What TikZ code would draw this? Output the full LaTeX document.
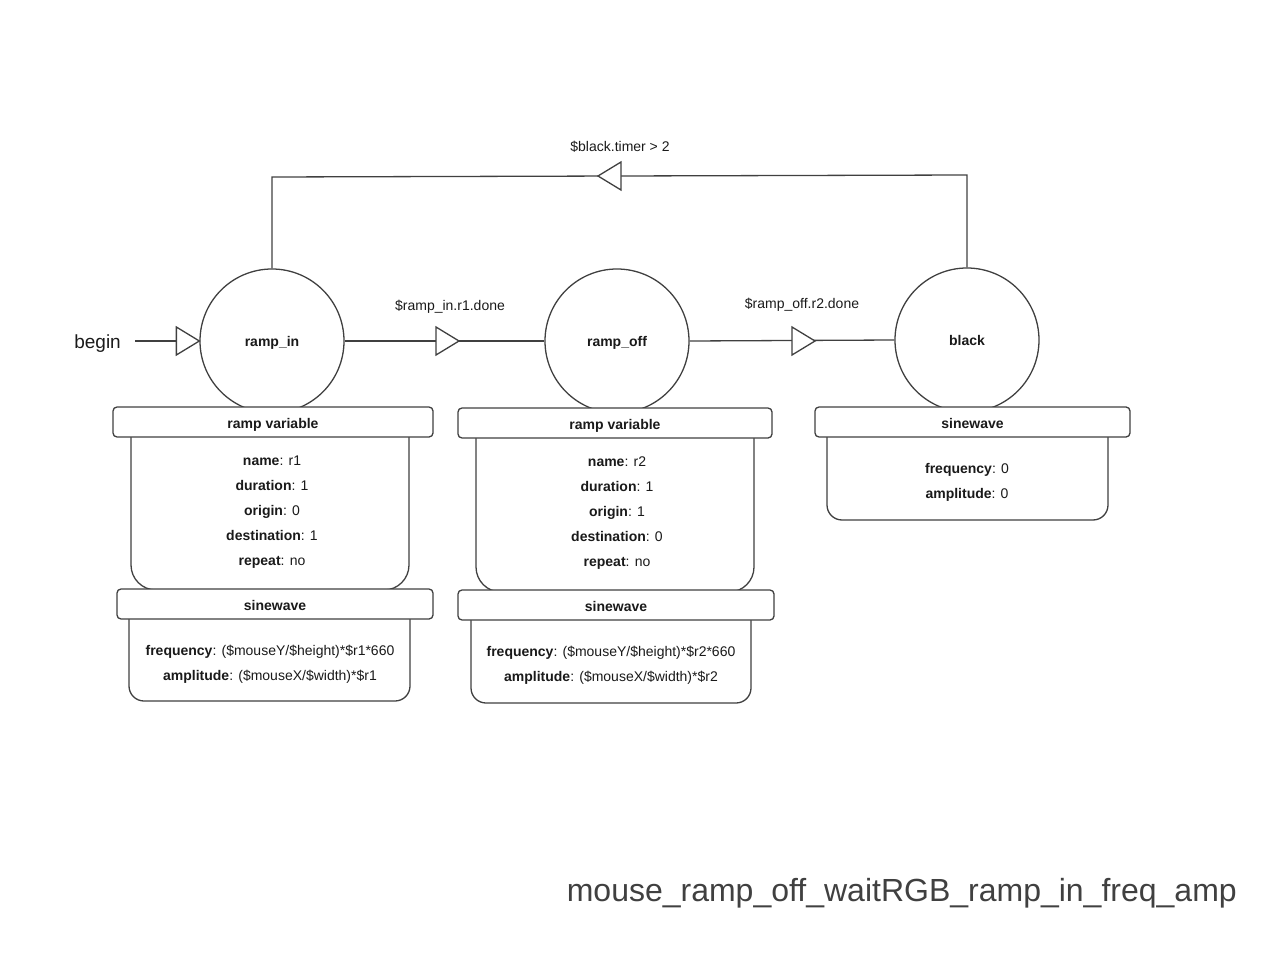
\documentclass[tikz,border=0pt]{standalone}
\usepackage{fontspec}
\setmainfont{Liberation Sans}
\definecolor{ln}{HTML}{404040}
\definecolor{tx}{HTML}{1A1A1A}
\tikzset{
  state/.style={circle,draw=ln,fill=white,line width=1.3pt,minimum size=144pt,inner sep=0pt,text=tx,text height=10pt,text depth=0pt,font=\bfseries\fontsize{14}{16}\selectfont},
  hdr/.style={rectangle,draw=ln,fill=white,line width=1.3pt,rounded corners=4pt,minimum height=30pt,inner sep=0pt,text=tx,text height=13pt,text depth=0pt,font=\bfseries\fontsize{14}{16}\selectfont},
  bodyline/.style={draw=ln,fill=white,line width=1.3pt},
  bodytext/.style={align=center,inner sep=0pt,text=tx,font=\fontsize{14}{25}\selectfont},
  conn/.style={draw=ln,line width=1.3pt},
  lbl/.style={inner sep=0pt,text=tx,font=\fontsize{14}{16}\selectfont},
  tri/.pic={\draw[draw=ln,fill=white,line width=1.3pt,line join=miter] (0,0) -- (-23,-14) -- (-23,14) -- cycle;}
}
\begin{document}
\begin{tikzpicture}[x=1pt,y=-1pt]
\useasboundingbox (0,0) rectangle (1280,960);

% states
\node[state] (rampin) at (272,341) {ramp\_in};
\node[state] (rampoff) at (617,341) {ramp\_off};
\node[state] (black) at (967,340) {black};

% begin
\node[lbl,font=\fontsize{19}{21}\selectfont,anchor=east] (begin) at (121,344) {begin};
\coordinate (bstart) at (135,341);
\draw[conn] (bstart) -- (rampin.west);
\pic at (rampin.west) {tri};

% transitions
\draw[conn] (rampin.east) -- (rampoff.west);
\pic at (459,341) {tri};
\node[lbl] (l1) at (450,307) {\$ramp\_in.r1.done};

\draw[conn] (rampoff.east) -- (black.west);
\pic at (815,341) {tri};
\node[lbl] (l2) at (802,305) {\$ramp\_off.r2.done};

\coordinate (tr) at (967,175);
\coordinate (tl) at (272,177);
\draw[conn] (black.north) -- (tr) -- (tl) -- (rampin.north);
\pic[rotate=180] at (598,176) {tri};
\node[lbl] (l3) at (620,147) {\$black.timer > 2};

% ramp_in boxes
\draw[bodyline,rounded corners=25pt] (131,437) -- (131,590) -- (409,590) -- (409,437);
\node[bodytext] (b1) at (272,512) {\textbf{name}: r1\\\textbf{duration}: 1\\\textbf{origin}: 0\\\textbf{destination}: 1\\\textbf{repeat}: no};
\node[hdr,minimum width=320pt] (h1) at (273,422) {ramp variable};
\draw[bodyline,rounded corners=15pt] (129,619) -- (129,701) -- (410,701) -- (410,619);
\node[bodytext] (sb1) at (270,664) {\textbf{frequency}: (\$mouseY/\$height)*\$r1*660\\\textbf{amplitude}: (\$mouseX/\$width)*\$r1};
\node[hdr,minimum width=316pt] (sh1) at (275,604) {sinewave};

% ramp_off boxes
\draw[bodyline,rounded corners=25pt] (476,438) -- (476,592) -- (754,592) -- (754,438);
\node[bodytext] (b2) at (617,513) {\textbf{name}: r2\\\textbf{duration}: 1\\\textbf{origin}: 1\\\textbf{destination}: 0\\\textbf{repeat}: no};
\node[hdr,minimum width=314pt] (h2) at (615,423) {ramp variable};
\draw[bodyline,rounded corners=15pt] (471,620) -- (471,703) -- (751,703) -- (751,620);
\node[bodytext] (sb2) at (611,665) {\textbf{frequency}: (\$mouseY/\$height)*\$r2*660\\\textbf{amplitude}: (\$mouseX/\$width)*\$r2};
\node[hdr,minimum width=316pt] (sh2) at (616,605) {sinewave};

% black boxes
\draw[bodyline,rounded corners=15pt] (827,437) -- (827,520) -- (1108,520) -- (1108,437);
\node[bodytext] (sb3) at (967,482) {\textbf{frequency}: 0\\\textbf{amplitude}: 0};
\node[hdr,minimum width=315pt] (sh3) at (972.5,422) {sinewave};

% title
\node[inner sep=0pt,anchor=east,text=ln,font=\fontsize{32}{34}\selectfont] (title) at (1237,893) {mouse\_ramp\_off\_waitRGB\_ramp\_in\_freq\_amp};
\end{tikzpicture}
\end{document}
